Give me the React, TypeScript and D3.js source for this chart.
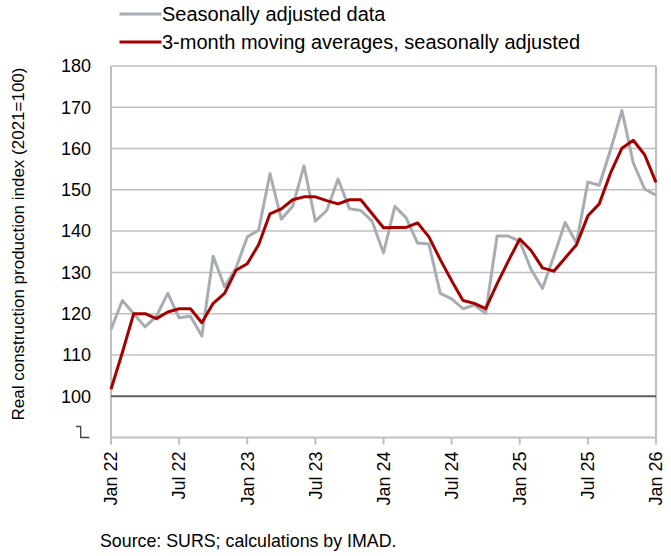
import React from "react";
import * as d3 from "d3";

const seasonallyAdjusted = [116.2, 123.2, 120, 116.8, 119.4, 124.9, 119.0, 119.4, 114.6, 133.9, 126.5, 131, 138.6, 140.2, 153.9, 142.9, 146, 155.8, 142.4, 145, 152.6, 145.4, 145, 142.4, 134.7, 146, 143.2, 137.1, 136.9, 124.9, 123.6, 121.2, 122.1, 120.1, 138.8, 138.8, 137.5, 130.7, 126.1, 133.9, 142.1, 137.1, 151.9, 151.1, 159.7, 169.2, 156.5, 150.2, 148.7];
const movingAverage = [101.7, 110.6, 120, 120, 118.8, 120.4, 121.2, 121.2, 117.8, 122.5, 124.9, 130.5, 132.1, 136.7, 144.2, 145.4, 147.6, 148.3, 148.3, 147.4, 146.6, 147.6, 147.6, 144.2, 140.8, 140.9, 140.9, 142, 138.6, 133.1, 128, 123.2, 122.5, 121.2, 127.2, 132.8, 138.1, 135.3, 131.1, 130.3, 133.5, 136.7, 143.7, 146.6, 154.1, 160.1, 162, 158.5, 151.8];
const xTickLabels = ["Jan 22", "Jul 22", "Jan 23", "Jul 23", "Jan 24", "Jul 24", "Jan 25", "Jul 25", "Jan 26"];
const xTickIndex = [0, 6, 12, 18, 24, 30, 36, 42, 48];
const yTicks = [100, 110, 120, 130, 140, 150, 160, 170, 180];
const seriesNames = ["Seasonally adjusted data", "3-month moving averages, seasonally adjusted"];

const W = 671;
const H = 556;
const left = 111;
const right = 656;
const top = 66;
const bottom = 437.5;
const FONT = "'Liberation Sans', Arial, sans-serif";
const GREY = "#A7ADB2";
const RED = "#A50000";
const GRID = "#BFBFBF";

export default function App() {
  const x = d3.scaleLinear().domain([0, 48]).range([left, right]);
  const y = d3.scaleLinear().domain([90, 180]).range([bottom, top]);
  const line = d3
    .line<number>()
    .x((_, i) => x(i))
    .y((d) => y(d));

  return (
    <svg
      width={W}
      height={H}
      style={{ position: "absolute", left: 0, top: 0, background: "#fff" }}
      fontFamily={FONT}
    >
      {/* gridlines */}
      {yTicks.filter((t) => t !== 100).map((t) => (
        <line key={t} x1={left} x2={right} y1={y(t)} y2={y(t)} stroke={GRID} strokeWidth={1.5} />
      ))}
      {/* frame */}
      <line x1={left} x2={left} y1={top} y2={bottom} stroke={GRID} strokeWidth={2} />
      <line x1={right} x2={right} y1={top} y2={bottom} stroke={GRID} strokeWidth={2} />
      <line x1={left} x2={right} y1={bottom} y2={bottom} stroke={GRID} strokeWidth={2} />
      {xTickIndex.map((i) => (
        <line key={i} x1={x(i)} x2={x(i)} y1={bottom} y2={bottom + 7} stroke={GRID} strokeWidth={2} />
      ))}
      {/* 100 baseline */}
      <line x1={left} x2={right} y1={y(100)} y2={y(100)} stroke="#595F66" strokeWidth={2} />
      {/* axis break marker */}
      <path
        d={`M76,${bottom - 11} H80.7 V${bottom} H89.3`}
        fill="none"
        stroke="#404040"
        strokeWidth={1.3}
      />
      {/* series */}
      <path d={line(seasonallyAdjusted) ?? ""} fill="none" stroke={GREY} strokeWidth={3} strokeLinejoin="round" />
      <path d={line(movingAverage) ?? ""} fill="none" stroke={RED} strokeWidth={3} strokeLinejoin="round" />
      {/* y tick labels */}
      {yTicks.map((t) => (
        <text key={t} x={91} y={y(t)} dy="0.35em" textAnchor="end" fontSize={18} fill="#000">
          {t}
        </text>
      ))}
      {/* x tick labels */}
      {xTickIndex.map((i, k) => (
        <text
          key={i}
          transform={`translate(${x(i)},${bottom + 14}) rotate(-90)`}
          dy="0.35em"
          textAnchor="end"
          fontSize={18}
          fill="#000"
        >
          {xTickLabels[k]}
        </text>
      ))}
      {/* y axis title */}
      <text
        transform={`translate(18,${(66 + 422) / 2}) rotate(-90)`}
        dy="0.35em"
        textAnchor="middle"
        fontSize={17}
        fill="#000"
      >
        Real construction production index (2021=100)
      </text>
      {/* legend */}
      <line x1={119.5} x2={161.5} y1={14} y2={14} stroke={GREY} strokeWidth={3} />
      <text x={162} y={14} dy="0.35em" fontSize={20} fill="#000">
        {seriesNames[0]}
      </text>
      <line x1={119.5} x2={161.5} y1={42} y2={42} stroke={RED} strokeWidth={3} />
      <text x={162} y={42} dy="0.35em" fontSize={20} fill="#000">
        {seriesNames[1]}
      </text>
      {/* source */}
      <text x={100} y={541} dy="0.35em" fontSize={17.8} fill="#000">
        Source: SURS; calculations by IMAD.
      </text>
    </svg>
  );
}
